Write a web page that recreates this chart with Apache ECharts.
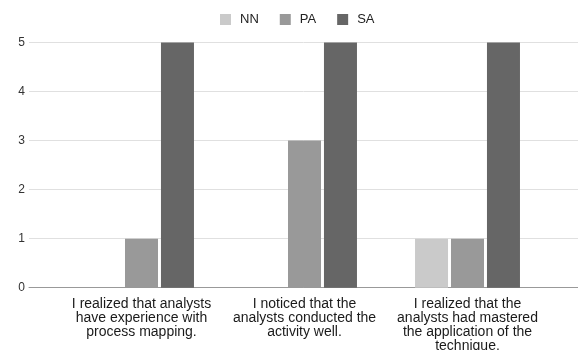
<!DOCTYPE html>
<html>
<head>
<meta charset="utf-8">
<script src="https://cdn.jsdelivr.net/npm/echarts@6/dist/echarts.min.js"></script>
<style>
  html, body { margin: 0; padding: 0; background: #fff; }
  #chart { width: 578px; height: 350px; }
</style>
</head>
<body>
<div id="chart"></div>
<script>
// Survey statements on the x axis
const categories = [
  'I realized that analysts\nhave experience with\nprocess mapping.',
  'I noticed that the\nanalysts conducted the\nactivity well.',
  'I realized that the\nanalysts had mastered\nthe application of the\ntechnique.'
];
// Response counts per answer type
const seriesNames = ['NN', 'PA', 'SA'];
const nnValues = [0, 0, 1];
const paValues = [1, 3, 1];
const saValues = [5, 5, 5];
const yTicks = { min: 0, max: 5, interval: 1 };

const colors = ['#cacaca', '#999999', '#666666'];
const valuesBySeries = [nnValues, paValues, saValues];

const chart = echarts.init(document.getElementById('chart'), null, { renderer: 'canvas' });

const gridTop = 42.5;
const gridBottom = 62.3;

chart.setOption({
  animation: false,
  textStyle: { fontFamily: 'Liberation Sans, Arial, sans-serif' },
  legend: {
    top: 13,
    left: 220,
    padding: 0,
    itemWidth: 11,
    itemHeight: 11,
    itemGap: 21,
    icon: 'rect',
    textStyle: { fontSize: 13, color: '#222', padding: [0, 0, 0, 4] },
    data: seriesNames
  },
  grid: [
    // full-width grid carrying the value gridlines and the baseline
    { left: 29, right: 0, top: gridTop, bottom: gridBottom, outerBoundsMode: 'none', containLabel: false },
    // inner grid holding the grouped bars
    { left: 60, right: 29, top: gridTop, bottom: gridBottom, outerBoundsMode: 'none', containLabel: false }
  ],
  xAxis: [
    {
      type: 'value', gridIndex: 0, min: 0, max: 1,
      axisLine: { show: true, lineStyle: { color: '#999999', width: 1 } },
      axisTick: { show: false }, axisLabel: { show: false }, splitLine: { show: false }
    },
    {
      type: 'category', gridIndex: 1, data: categories,
      axisLine: { show: false }, axisTick: { show: false }, splitLine: { show: false },
      axisLabel: {
        interval: 0, fontSize: 14, lineHeight: 14, margin: 9.5, color: '#1a1a1a', align: 'center'
      }
    }
  ],
  yAxis: [
    {
      type: 'value', gridIndex: 0, min: yTicks.min, max: yTicks.max, interval: yTicks.interval,
      axisLine: { show: false }, axisTick: { show: false },
      axisLabel: { fontSize: 12, color: '#333', margin: 4 },
      splitLine: { show: true, lineStyle: { color: '#e0e0e0', width: 1 } }
    },
    {
      type: 'value', gridIndex: 1, min: yTicks.min, max: yTicks.max, interval: yTicks.interval,
      show: false
    }
  ],
  series: seriesNames.map((name, i) => ({
    name: name,
    type: 'bar',
    xAxisIndex: 1,
    yAxisIndex: 1,
    data: valuesBySeries[i],
    barWidth: 33,
    barGap: '9%',
    itemStyle: { color: colors[i] }
  }))
});
</script>
</body>
</html>
